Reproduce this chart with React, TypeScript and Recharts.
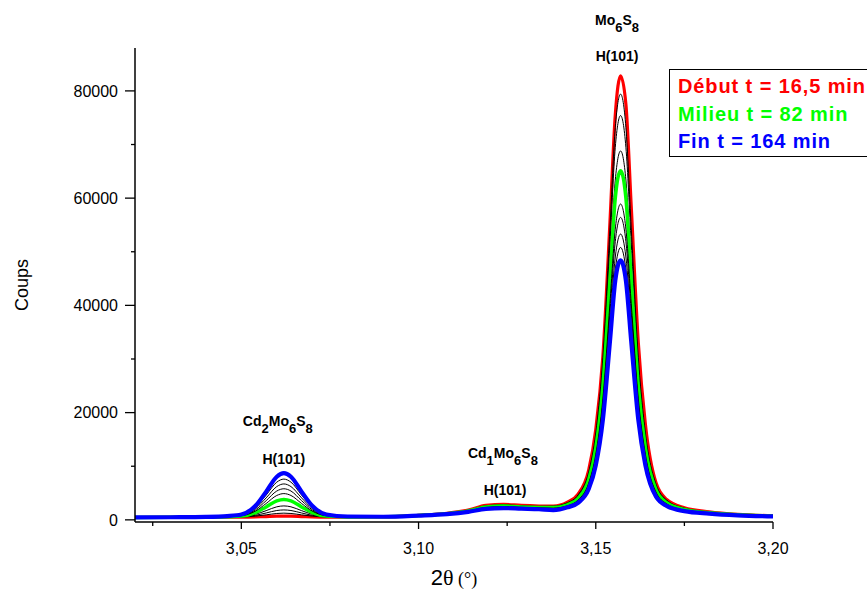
import React from "react";
import { LineChart, Line, XAxis, YAxis, ReferenceDot } from "recharts";

const twoTheta = [
  3.02, 3.03, 3.04, 3.046, 3.05, 3.054, 3.057, 3.06, 3.062, 3.064, 3.067,
  3.07, 3.074, 3.08, 3.09, 3.1, 3.108, 3.114, 3.119, 3.124, 3.129, 3.134,
  3.138, 3.142, 3.145, 3.148, 3.15, 3.152, 3.154, 3.1555, 3.157, 3.1585,
  3.16, 3.162, 3.164, 3.167, 3.17, 3.175, 3.182, 3.19, 3.2,
];

// counts, one pattern every ~16,4 min (début -> fin)
const debut = [
  440, 470, 490, 505, 512, 552, 616, 684, 700, 684, 616, 552, 512, 503, 550,
  860, 1220, 1810, 2690, 2880, 2690, 2580, 2550, 3300, 4800, 9300, 16870,
  30500, 55500, 75500, 82800, 77500, 58500, 33000, 17800, 6900, 3800, 2250,
  1500, 1030, 760,
];
const scan2 = [
  450, 470, 496, 519, 545, 695, 935, 1190, 1250, 1190, 935, 695, 545, 511,
  552, 860, 1210, 1800, 2630, 2810, 2620, 2520, 2570, 3200, 4650, 8950, 16210,
  30260, 54450, 73190, 79400, 73190, 54450, 30260, 16210, 6650, 3700, 2200,
  1480, 1010, 760,
];
const scan3 = [
  450, 470, 501, 534, 581, 851, 1283, 1742, 1850, 1742, 1283, 851, 581, 520,
  554, 850, 1190, 1750, 2550, 2730, 2540, 2460, 2490, 3080, 4450, 8530, 15420,
  28750, 51700, 69480, 75400, 69480, 51700, 28750, 15420, 6350, 3560, 2120,
  1440, 990, 740,
];
const scan4 = [
  450, 475, 507, 553, 626, 1046, 1718, 2432, 2600, 2432, 1718, 1046, 626, 532,
  556, 840, 1170, 1710, 2470, 2640, 2470, 2370, 2360, 2900, 4150, 7850, 14140,
  26280, 47190, 63370, 68800, 63370, 47190, 26280, 14140, 5880, 3340, 2000,
  1370, 960, 730,
];
const milieu = [
  450, 477, 516, 583, 698, 1358, 2414, 3536, 3800, 3536, 2414, 1358, 698, 550,
  563, 830, 1160, 1670, 2400, 2570, 2400, 2310, 2290, 2800, 3980, 7470, 13420,
  24910, 44680, 60000, 65100, 60000, 44680, 24910, 13420, 5600, 3200, 1930,
  1330, 940, 710,
];
const scan6 = [
  450, 478, 525, 610, 764, 1644, 3052, 4548, 4900, 4548, 3052, 1644, 764, 566,
  568, 820, 1130, 1620, 2310, 2480, 2330, 2220, 2180, 2620, 3700, 6840, 12210,
  22560, 40400, 54220, 58900, 54220, 40400, 22560, 12210, 5150, 2980, 1810,
  1280, 900, 690,
];
const scan7 = [
  450, 480, 532, 633, 818, 1878, 3574, 5376, 5800, 5376, 3574, 1878, 818, 580,
  571, 820, 1110, 1580, 2250, 2410, 2260, 2170, 2120, 2550, 3580, 6580, 11710,
  21620, 38680, 51900, 56400, 51900, 38680, 21620, 11710, 4950, 2890, 1770,
  1250, 890, 680,
];
const scan8 = [
  450, 482, 540, 655, 872, 2112, 4096, 6204, 6700, 6204, 4096, 2112, 872, 593,
  575, 810, 1100, 1540, 2180, 2330, 2190, 2110, 2050, 2450, 3430, 6250, 11100,
  20450, 36560, 49020, 53300, 49020, 36560, 20450, 11100, 4720, 2780, 1700,
  1220, 870, 660,
];
const scan9 = [
  450, 485, 547, 678, 926, 2346, 4618, 7032, 7600, 7032, 4618, 2346, 926, 607,
  578, 800, 1080, 1520, 2110, 2260, 2140, 2050, 2000, 2380, 3300, 5990, 10610,
  19510, 34840, 46700, 50800, 46700, 34840, 19510, 10610, 4530, 2680, 1650,
  1190, 850, 650,
];
const fin = [
  450, 490, 556, 705, 992, 2632, 5256, 8044, 8700, 8044, 5256, 2632, 992, 623,
  583, 800, 1070, 1490, 2040, 2190, 2080, 1980, 1820, 2330, 3180, 5750, 10170,
  18660, 33300, 44620, 48400, 44620, 33300, 18660, 10170, 4300, 2600, 1620,
  1160, 840, 640,
];

const xMajor = [3.05, 3.1, 3.15, 3.2];
const xMinor = [3.025, 3.075, 3.125, 3.175];
const yMajor = [0, 20000, 40000, 60000, 80000];
const yMinor = [10000, 30000, 50000, 70000];

const legendItems = [
  { label: "Début t = 16,5 min", color: "#ff0000" },
  { label: "Milieu t = 82 min", color: "#00ff00" },
  { label: "Fin t = 164 min", color: "#0000ff" },
];

// phase labels: [text, subscript] pieces, anchored in data units
const annotations = [
  { x: 3.156, y: 92300, parts: [["Mo", "6"], ["S", "8"]] },
  { x: 3.156, y: 85500, parts: [["H(101)", ""]] },
  { x: 3.0603, y: 17500, parts: [["Cd", "2"], ["Mo", "6"], ["S", "8"]] },
  { x: 3.062, y: 10500, parts: [["H(101)", ""]] },
  { x: 3.1238, y: 11600, parts: [["Cd", "1"], ["Mo", "6"], ["S", "8"]] },
  { x: 3.1244, y: 4700, parts: [["H(101)", ""]] },
];

const lines = [
  { key: "debut", values: debut, color: "#ff0000", width: 3.2 },
  { key: "scan2", values: scan2, color: "#000", width: 1 },
  { key: "scan3", values: scan3, color: "#000", width: 1 },
  { key: "scan4", values: scan4, color: "#000", width: 1 },
  { key: "milieu", values: milieu, color: "#00ff00", width: 3.5 },
  { key: "scan6", values: scan6, color: "#000", width: 1 },
  { key: "scan7", values: scan7, color: "#000", width: 1 },
  { key: "scan8", values: scan8, color: "#000", width: 1 },
  { key: "scan9", values: scan9, color: "#000", width: 1 },
  { key: "fin", values: fin, color: "#0000ff", width: 4.2 },
];

const rows = twoTheta.map((x, i) => {
  const r: any = { x };
  lines.forEach((l) => (r[l.key] = l.values[i]));
  return r;
});

const FONT = "'Liberation Sans', Arial, sans-serif";
const SERIF = "'Liberation Serif', 'Times New Roman', serif";

const isMajorX = (v: number) => xMajor.some((m) => Math.abs(m - v) < 1e-6);

function XTick({ x, y, payload }: any) {
  const major = isMajorX(payload.value);
  return (
    <g>
      <line x1={x} y1={y} x2={x} y2={y + (major ? 7 : 4)} stroke="#000" strokeWidth={1.3} />
      {major && (
        <text x={x} y={y + 32} textAnchor="middle" fontFamily={FONT} fontSize={16} fill="#000">
          {payload.value.toFixed(2).replace(".", ",")}
        </text>
      )}
    </g>
  );
}

function YTick({ x, y, payload }: any) {
  const major = yMajor.includes(payload.value);
  return (
    <g>
      <line x1={x} y1={y} x2={x - (major ? 10 : 4)} y2={y} stroke="#000" strokeWidth={1.3} />
      {major && (
        <text x={x - 17} y={y} dy="0.36em" textAnchor="end" fontFamily={FONT} fontSize={16} fill="#000">
          {payload.value}
        </text>
      )}
    </g>
  );
}

function Formula({ cx, cy, parts }: any) {
  const spans: any[] = [];
  let lowered = false;
  parts.forEach(([main, sub]: string[], i: number) => {
    spans.push(
      <tspan key={`m${i}`} dy={lowered ? -7 : 0}>
        {main}
      </tspan>
    );
    lowered = false;
    if (sub) {
      spans.push(
        <tspan key={`s${i}`} dy={7} fontSize={13}>
          {sub}
        </tspan>
      );
      lowered = true;
    }
  });
  return (
    <text x={cx} y={cy} textAnchor="middle" fontFamily={FONT} fontWeight="bold" fontSize={14} fill="#000">
      {spans}
    </text>
  );
}

export default function App() {
  return (
    <div
      style={{
        position: "absolute",
        left: 0,
        top: 0,
        width: 867,
        height: 595,
        overflow: "hidden",
        background: "#fff",
      }}
    >
      <LineChart
        width={867}
        height={595}
        data={rows}
        margin={{ top: 48, right: 94, bottom: 0, left: 0 }}
      >
        <XAxis
          dataKey="x"
          type="number"
          domain={[3.02, 3.2]}
          ticks={[...xMinor, ...xMajor].sort((a, b) => a - b)}
          allowDataOverflow
          height={73}
          tickSize={0}
          tickMargin={0}
          tickLine={false}
          axisLine={{ stroke: "#000", strokeWidth: 1.5 }}
          tick={<XTick />}
          interval={0}
          label={({ viewBox }: any) => (
            <text
              x={viewBox.x + viewBox.width / 2}
              y={viewBox.y + 63}
              textAnchor="middle"
              fill="#000"
            >
              <tspan fontFamily={FONT} fontSize={22}>2</tspan>
              <tspan fontFamily={SERIF} fontSize={22}>θ</tspan>
              <tspan fontFamily={SERIF} fontSize={18}> (°)</tspan>
            </text>
          )}
        />
        <YAxis
          type="number"
          domain={[-400, 88000]}
          ticks={[...yMajor, ...yMinor].sort((a, b) => a - b)}
          allowDataOverflow
          width={135}
          tickSize={0}
          tickMargin={0}
          tickLine={false}
          axisLine={{ stroke: "#000", strokeWidth: 1.5 }}
          tick={<YTick />}
          interval={0}
          label={({ viewBox }: any) => (
            <text
              x={viewBox.x + 22}
              y={viewBox.y + viewBox.height / 2}
              transform={`rotate(-90 ${viewBox.x + 22} ${viewBox.y + viewBox.height / 2})`}
              textAnchor="middle"
              dy="0.36em"
              fontFamily={FONT}
              fontSize={18}
              fill="#000"
            >
              Coups
            </text>
          )}
        />
        {lines.map((l) => (
          <Line
            key={l.key}
            dataKey={l.key}
            type="monotone"
            stroke={l.color}
            strokeWidth={l.width}
            dot={false}
            activeDot={false}
            isAnimationActive={false}
          />
        ))}
        {annotations.map((a, i) => (
          <ReferenceDot
            key={i}
            x={a.x}
            y={a.y}
            ifOverflow="visible"
            shape={(p: any) => <Formula cx={p.cx} cy={p.cy} parts={a.parts} />}
          />
        ))}
      </LineChart>
      <div
        style={{
          position: "absolute",
          left: 669,
          top: 69,
          width: 230,
          height: 88,
          border: "1px solid #000",
          background: "#fff",
          padding: "3px 0 0 8px",
          boxSizing: "border-box",
          fontFamily: FONT,
          fontWeight: "bold",
          fontSize: 20,
          letterSpacing: 0.9,
          lineHeight: "27.5px",
          whiteSpace: "nowrap",
        }}
      >
        {legendItems.map((it) => (
          <div key={it.label} style={{ color: it.color }}>
            {it.label}
          </div>
        ))}
      </div>
    </div>
  );
}
